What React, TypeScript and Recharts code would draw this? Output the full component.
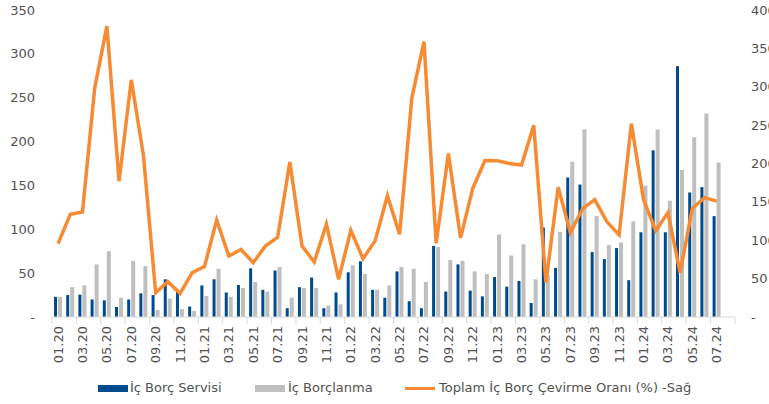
import React from 'react';
import { ComposedChart, Bar, Line, XAxis, YAxis, Legend } from 'recharts';

const months = [
  '01.20','02.20','03.20','04.20','05.20','06.20','07.20','08.20','09.20','10.20','11.20','12.20',
  '01.21','02.21','03.21','04.21','05.21','06.21','07.21','08.21','09.21','10.21','11.21','12.21',
  '01.22','02.22','03.22','04.22','05.22','06.22','07.22','08.22','09.22','10.22','11.22','12.22',
  '01.23','02.23','03.23','04.23','05.23','06.23','07.23','08.23','09.23','10.23','11.23','12.23',
  '01.24','02.24','03.24','04.24','05.24','06.24','07.24','08.24',
];

const icBorcServisi = [
  23, 25, 25.5, 20, 19, 11.5, 20, 27, 25, 43, 30, 12,
  36, 43, 28, 36.5, 55.5, 31, 53, 10, 34, 45, 10, 28,
  51, 63.5, 31, 22, 52, 18, 10, 81, 29, 60, 30, 23.5,
  45.6, 34.6, 41, 16, 102, 56, 159, 151, 74, 66, 78.6, 42,
  96.6, 190, 96.6, 286, 142, 148, 115, null,
];

const icBorclanma = [
  23, 34, 36, 60, 75, 22, 64, 58, 8, 21, 9, 7,
  24, 55, 23, 33, 40, 29, 57, 22, 33, 33, 13, 14.5,
  59, 49, 31, 36, 57, 55, 40, 80, 65, 64, 52, 49,
  94, 70, 83, 43, 48, 97, 177, 214, 115, 82, 85, 109,
  150, 213.7, 132.7, 167.7, 205, 232, 176, null,
];

const cevirmeOrani = [
  95.5, 133.8, 136.8, 298, 379, 177, 309, 210, 31.7, 46, 30.8, 57.8,
  65.6, 126.4, 79.5, 88, 70.8, 92.5, 103.8, 202, 92.5, 71.7, 121, 49,
  113, 76, 99.5, 158, 107.7, 285, 358.7, 96, 213, 103, 167.6, 204,
  203.7, 200, 198, 249.7, 45, 169, 110, 141, 153, 124, 107, 252,
  153, 112.5, 136, 57.8, 141.6, 155.5, 151, null,
];

const leftTicks = [0, 50, 100, 150, 200, 250, 300, 350];
const rightTicks = [0, 50, 100, 150, 200, 250, 300, 350, 400];

const seriesNames = ['İç Borç Servisi', 'İç Borçlanma', 'Toplam İç Borç Çevirme Oranı (%) -Sağ'];

const data = months.map((m, i) => ({
  month: m,
  servis: icBorcServisi[i],
  borclanma: icBorclanma[i],
  oran: cevirmeOrani[i],
}));

const BLUE = '#004B8D';
const GRAY = '#BFBFBF';
const ORANGE = '#F68B33';
const TEXT = '#525252';
const FONT = '"DejaVu Sans", sans-serif';

const W = 769;
const H = 404;
const LEFT_W = 52;
const RIGHT_W = 34;
const PLOT_W = W - LEFT_W - RIGHT_W;
const BAND = PLOT_W / months.length;
const LAST_LABEL_INDEX = months.length - 2;

const fmt = (v: number) => (v === 0 ? '-' : String(v));

const XTick = (props: any) => {
  const { x, y, payload } = props;
  const half = BAND / 2;
  return (
    <g>
      <line x1={x - half} x2={x - half} y1={y} y2={y + 7} stroke="#D9D9D9" strokeWidth={1} />
      {payload.index === LAST_LABEL_INDEX && (
        <line x1={x + 3 * half} x2={x + 3 * half} y1={y} y2={y + 7} stroke="#D9D9D9" strokeWidth={1} />
      )}
      <text
        x={0}
        y={0}
        transform={`translate(${x + 4.5},${y + 9}) rotate(-90)`}
        textAnchor="end"
        fill={TEXT}
        fontSize={13}
        fontFamily={FONT}
      >
        {payload.value}
      </text>
    </g>
  );
};

const LegendContent = () => (
  <div
    style={{
      height: 34,
      position: 'relative',
      fontFamily: FONT,
      fontSize: 13,
      color: TEXT,
    }}
  >
    <div style={{ position: 'absolute', left: 98, top: 15, width: 30, height: 7, background: BLUE }} />
    <div style={{ position: 'absolute', left: 130, top: 9, lineHeight: '18px' }}>{seriesNames[0]}</div>
    <div style={{ position: 'absolute', left: 255, top: 15, width: 30, height: 7, background: GRAY }} />
    <div style={{ position: 'absolute', left: 288, top: 9, lineHeight: '18px' }}>{seriesNames[1]}</div>
    <div style={{ position: 'absolute', left: 405, top: 17, width: 30, height: 3, background: ORANGE }} />
    <div style={{ position: 'absolute', left: 439, top: 9, lineHeight: '18px', whiteSpace: 'nowrap' }}>{seriesNames[2]}</div>
  </div>
);

export default function App() {
  return (
    <div style={{ position: 'absolute', left: 0, top: 0, width: W, height: H, overflow: 'hidden', background: '#fff' }}>
      <ComposedChart
        width={W}
        height={H}
        data={data}
        margin={{ top: 10, right: 0, bottom: 0, left: 0 }}
        barGap={1}
        barCategoryGap={0}
      >
        <XAxis
          dataKey="month"
          interval={1}
          height={53}
          tick={<XTick />}
          tickLine={false}
          tickSize={0}
          tickMargin={0}
          axisLine={{ stroke: '#D9D9D9' }}
        />
        <YAxis
          yAxisId="left"
          orientation="left"
          width={LEFT_W}
          domain={[0, 350]}
          ticks={leftTicks}
          tickFormatter={fmt}
          axisLine={false}
          tickLine={false}
          tickSize={0}
          tickMargin={17}
          tick={{ fill: TEXT, fontSize: 13, fontFamily: FONT }}
        />
        <YAxis
          yAxisId="right"
          orientation="right"
          width={RIGHT_W}
          domain={[0, 400]}
          ticks={rightTicks}
          tickFormatter={fmt}
          axisLine={false}
          tickLine={false}
          tickSize={0}
          tickMargin={16}
          tick={{ fill: TEXT, fontSize: 13, fontFamily: FONT, textAnchor: 'start' }}
        />
        <Legend verticalAlign="bottom" height={34} content={<LegendContent />} />
        <Bar yAxisId="left" dataKey="servis" name={seriesNames[0]} fill={BLUE} barSize={3} isAnimationActive={false} />
        <Bar yAxisId="left" dataKey="borclanma" name={seriesNames[1]} fill={GRAY} barSize={4} isAnimationActive={false} />
        <Line
          yAxisId="right"
          dataKey="oran"
          name={seriesNames[2]}
          type="linear"
          stroke={ORANGE}
          strokeWidth={3.5}
          dot={false}
          activeDot={false}
          isAnimationActive={false}
        />
      </ComposedChart>
    </div>
  );
}
